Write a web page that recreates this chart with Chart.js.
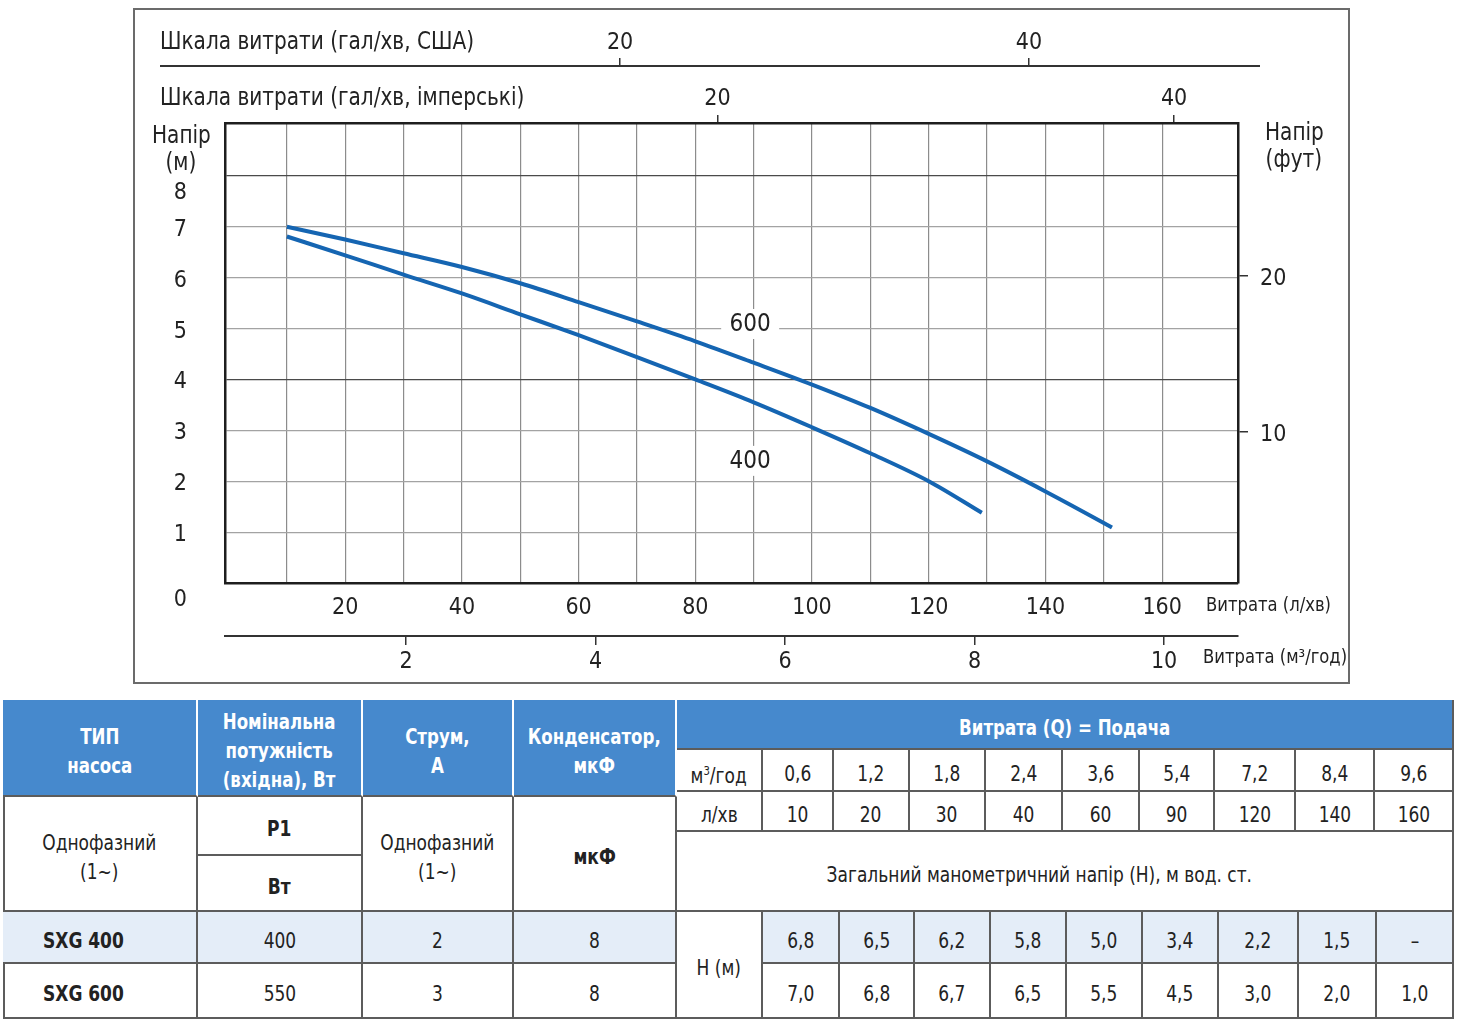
<!DOCTYPE html>
<html>
<head>
<meta charset="utf-8">
<script src="https://cdn.jsdelivr.net/npm/chart.js@4.4.1/dist/chart.umd.min.js"></script>
<style>
  body { margin:0; background:#fff; width:1459px; height:1025px; overflow:hidden; position:relative;
         font-family:'Liberation Sans Narrow','Arial Narrow','DejaVu Sans Condensed',sans-serif; color:#222; }
  #frame { position:absolute; left:133px; top:8px; width:1217px; height:676px; border:2px solid #6b6b6b; box-sizing:border-box; }
  #c { position:absolute; left:0; top:0; }
  .lbl { position:absolute; white-space:nowrap; transform:translateY(-50%) scaleX(0.93); transform-origin:left center;
         font-size:24px; line-height:27px; }
  .sm { font-size:19px; transform:translateY(-50%) scaleX(0.96); }
  .cell { position:absolute; box-sizing:border-box; display:flex; align-items:center; justify-content:center; text-align:center;
          border-right:2px solid #5c5c5c; border-bottom:2px solid #5c5c5c; font-size:22px; line-height:29px; color:#222; }
  .cell .t { display:inline-block; white-space:nowrap; transform:scaleX(0.86); position:relative; top:3px; }
  .hd { background:#4689cd; color:#fff; font-weight:bold; border-right-color:#fff; }
  .hd .t { transform:scaleX(0.84); }
  .lt { background:#e4edf8; }
  .b { font-weight:bold; }
  .left { justify-content:flex-start; padding-left:40px; }
  .left .t { transform-origin:left center; }
</style>
</head>
<body>
<div id="frame"></div>
<canvas id="c" width="1459" height="690"></canvas>

<div class="lbl" style="left:160px;top:41px">Шкала витрати (гал/хв, США)</div>
<div class="lbl" style="left:160px;top:97px">Шкала витрати (гал/хв, імперські)</div>
<div class="lbl" style="left:152px;top:149px;width:62px;text-align:center">Напір<br>(м)</div>
<div class="lbl" style="left:1265px;top:146px;width:62px;text-align:center">Напір<br>(фут)</div>
<div class="lbl sm" style="left:1206px;top:604px">Витрата (л/хв)</div>
<div class="lbl sm" style="left:1203px;top:656px">Витрата (м³/год)</div>

<script>
// pump curves (flow l/min, head m)
var flow600 = [10, 20, 30, 40, 50, 60, 70, 80, 90, 100, 110, 120, 130, 140, 150, 151.4];
var head600 = [7.0, 6.75, 6.48, 6.21, 5.89, 5.52, 5.14, 4.75, 4.33, 3.90, 3.44, 2.93, 2.39, 1.80, 1.18, 1.09];
var flow400 = [10, 20, 30, 40, 50, 60, 70, 80, 90, 100, 110, 120, 129.1];
var head400 = [6.81, 6.44, 6.06, 5.69, 5.28, 4.87, 4.44, 4.0, 3.55, 3.06, 2.55, 2.00, 1.38];

// axis ticks
var lminGrid = [10, 20, 30, 40, 50, 60, 70, 80, 90, 100, 110, 120, 130, 140, 150, 160];
var lminLabels = [20, 40, 60, 80, 100, 120, 140, 160];
var m3Ticks = [2, 4, 6, 8, 10];
var usTicks = [20, 40];
var impTicks = [20, 40];
var mTicks = [0, 1, 2, 3, 4, 5, 6, 7, 8];
var ftTicks = [10, 20];

// curve tags
var tagText = ['600', '400'];
var tagFlow = [89.4, 89.4];
var tagHead = [5.09, 2.40];

// table
var tblM3 = ['0,6', '1,2', '1,8', '2,4', '3,6', '5,4', '7,2', '8,4', '9,6'];
var tblLmin = ['10', '20', '30', '40', '60', '90', '120', '140', '160'];
var tblH400 = ['6,8', '6,5', '6,2', '5,8', '5,0', '3,4', '2,2', '1,5', '–'];
var tblH600 = ['7,0', '6,8', '6,7', '6,5', '5,5', '4,5', '3,0', '2,0', '1,0'];
var models = ['SXG 400', 'SXG 600'];
var powerW = ['400', '550'];
var currentA = ['2', '3'];
var capUF = ['8', '8'];

var FONT = "'Liberation Sans Narrow','Arial Narrow','DejaVu Sans Condensed',sans-serif";
Chart.defaults.font.family = FONT;
Chart.defaults.color = '#222';

var blue = '#1565b2';

function pts(xs, ys) {
  return xs.map(function (x, i) { return { x: x, y: ys[i] }; });
}
function fixTicks(list) {
  return function (s) { s.ticks = list.map(function (v) { return { value: v }; }); };
}

var extras = {
  id: 'extras',
  afterDraw: function (chart) {
    var c = chart.ctx, a = chart.chartArea;
    var xs = chart.scales.x, ys = chart.scales.y, us = chart.scales.xus;
    c.save();
    // US gallons scale line is longer than the plot box
    c.strokeStyle = '#333';
    c.lineWidth = 2;
    c.beginPath();
    c.moveTo(a.left - 65, us.bottom);
    c.lineTo(a.right + 22, us.bottom);
    c.stroke();
    // model tags on the curves
    c.font = '24px ' + FONT;
    c.textAlign = 'center';
    c.textBaseline = 'middle';
    tagText.forEach(function (t, i) {
      var px = xs.getPixelForValue(tagFlow[i]), py = ys.getPixelForValue(tagHead[i]);
      c.fillStyle = '#fff';
      c.fillRect(px - 29, py - 15, 58, 30);
      c.fillStyle = '#222';
      c.fillText(t, px, py + 1);
    });
    c.restore();
  }
};

var tickFont = { size: 23 };

new Chart(document.getElementById('c'), {
  type: 'line',
  data: {
    datasets: [
      { label: 'SXG 600', data: pts(flow600, head600), borderColor: blue, borderWidth: 4, pointRadius: 0, cubicInterpolationMode: 'monotone', fill: false },
      { label: 'SXG 400', data: pts(flow400, head400), borderColor: blue, borderWidth: 4, pointRadius: 0, cubicInterpolationMode: 'monotone', fill: false }
    ]
  },
  options: {
    responsive: false,
    animation: false,
    events: [],
    layout: { padding: { left: 133, right: 141, top: 8, bottom: 6 } },
    plugins: { legend: { display: false }, tooltip: { enabled: false } },
    scales: {
      x: {
        type: 'linear', position: 'bottom', weight: 0, min: -0.6, max: 173,
        afterBuildTicks: fixTicks(lminGrid),
        afterFit: function (s) { s.height = 53; },
        grid: { color: '#8c8c8c', lineWidth: 1.2, drawTicks: false },
        border: { display: true, color: '#1e1e1e', width: 2.5 },
        ticks: { padding: 11, font: tickFont, autoSkip: false, maxRotation: 0,
                 callback: function (v) { return lminLabels.indexOf(v) >= 0 ? String(v) : ''; } }
      },
      xm3: {
        type: 'linear', position: 'bottom', weight: 1, min: 0.09, max: 10.78,
        afterBuildTicks: fixTicks(m3Ticks),
        afterFit: function (s) { s.height = 48; },
        grid: { drawOnChartArea: false, tickLength: 9, color: '#333', lineWidth: 1.5 },
        border: { display: true, color: '#333', width: 2 },
        ticks: { padding: 3, font: tickFont, autoSkip: false, maxRotation: 0 }
      },
      ximp: {
        type: 'linear', position: 'top', weight: 1, min: -1.57, max: 42.8,
        afterBuildTicks: fixTicks(impTicks),
        afterFit: function (s) { s.height = 57; },
        grid: { drawOnChartArea: false, tickLength: 8, color: '#333', lineWidth: 1.5 },
        border: { display: true, color: '#1e1e1e', width: 2.5 },
        ticks: { padding: 2, font: tickFont, autoSkip: false, maxRotation: 0 }
      },
      xus: {
        type: 'linear', position: 'top', weight: 2, min: 0.68, max: 50.22,
        afterBuildTicks: fixTicks(usTicks),
        afterFit: function (s) { s.height = 58; },
        grid: { drawOnChartArea: false, tickLength: 8, color: '#333', lineWidth: 1.5 },
        border: { display: false },
        ticks: { padding: 1, font: tickFont, autoSkip: false, maxRotation: 0 }
      },
      y: {
        type: 'linear', position: 'left', min: 0, max: 9.04,
        afterBuildTicks: fixTicks(mTicks),
        afterFit: function (s) { s.width = 92; },
        grid: {
          drawTicks: false, lineWidth: 1.2,
          color: function (ctx) { var v = ctx.tick && ctx.tick.value; return (v === 4 || v === 8) ? '#4a4a4a' : '#a3a3a3'; }
        },
        border: { display: true, color: '#1e1e1e', width: 2.5 },
        ticks: { padding: 38, labelOffset: 3, font: tickFont, autoSkip: false,
                 callback: function (v) { return (v === 0 || v === 8) ? ['', String(v)] : String(v); } }
      },
      y2: {
        type: 'linear', position: 'right', min: 0.3, max: 29.8,
        afterBuildTicks: fixTicks(ftTicks),
        afterFit: function (s) { s.width = 80; },
        grid: { drawOnChartArea: false, tickLength: 10, color: '#333', lineWidth: 1.5 },
        border: { display: true, color: '#1e1e1e', width: 2.5 },
        ticks: { padding: 12, labelOffset: 3, font: tickFont, autoSkip: false }
      }
    }
  },
  plugins: [extras]
});

// ---- table below the chart ----
var colsTop = [763, 834, 910, 986, 1063, 1140, 1215, 1296, 1375, 1452];
var colsBot = [763, 840, 915, 991, 1067, 1143, 1219, 1299, 1377, 1452];

function cell(x1, y1, x2, y2, txt, cls) {
  var d = document.createElement('div');
  d.className = 'cell ' + (cls || '');
  d.style.left = x1 + 'px';
  d.style.top = y1 + 'px';
  d.style.width = (x2 - x1) + 'px';
  d.style.height = (y2 - y1) + 'px';
  d.innerHTML = '<span class="t">' + txt + '</span>';
  document.body.appendChild(d);
  return d;
}

var outer = document.createElement('div');
outer.style.cssText = 'position:absolute;left:3px;top:700px;width:1451px;height:319px;border:2px solid #5c5c5c;box-sizing:border-box';
document.body.appendChild(outer);

cell(3, 700, 198, 797, 'ТИП<br>насоса', 'hd');
cell(198, 700, 363, 797, 'Номінальна<br>потужність<br>(вхідна), Вт', 'hd');
cell(363, 700, 514, 797, 'Струм,<br>А', 'hd');
cell(514, 700, 677, 797, 'Конденсатор,<br>мкФ', 'hd');
cell(677, 700, 1454, 750, 'Витрата (Q) = Подача', 'hd').style.borderRightColor = '#5c5c5c';

cell(677, 750, 763, 792, 'м<sup style="font-size:13px">3</sup>/год');
cell(677, 792, 763, 832, 'л/хв');
for (var i = 0; i < 9; i++) {
  cell(colsTop[i], 750, colsTop[i + 1] + (i === 8 ? 2 : 0), 792, tblM3[i]);
  cell(colsTop[i], 792, colsTop[i + 1] + (i === 8 ? 2 : 0), 832, tblLmin[i]);
}

cell(3, 797, 198, 912, 'Однофазний<br>(1~)');
cell(198, 797, 363, 856, 'P1', 'b');
cell(198, 856, 363, 912, 'Вт', 'b');
cell(363, 797, 514, 912, 'Однофазний<br>(1~)');
cell(514, 797, 677, 912, 'мкФ', 'b');
cell(677, 832, 1454, 912, 'Загальний манометричний напір (H), м вод. ст.').style.paddingRight = '50px';

var rowY = [912, 964, 1019];
for (var r = 0; r < 2; r++) {
  var cls = r === 0 ? 'lt' : '';
  var y1 = rowY[r], y2 = rowY[r + 1];
  cell(3, y1, 198, y2, models[r], 'b left ' + cls);
  cell(198, y1, 363, y2, powerW[r], cls);
  cell(363, y1, 514, y2, currentA[r], cls);
  cell(514, y1, 677, y2, capUF[r], cls);
  var vals = r === 0 ? tblH400 : tblH600;
  for (var j = 0; j < 9; j++) {
    cell(colsBot[j], y1, colsBot[j + 1] + (j === 8 ? 2 : 0), y2, vals[j], cls);
  }
}
cell(677, 912, 763, 1019, 'H (м)');
</script>
</body>
</html>
